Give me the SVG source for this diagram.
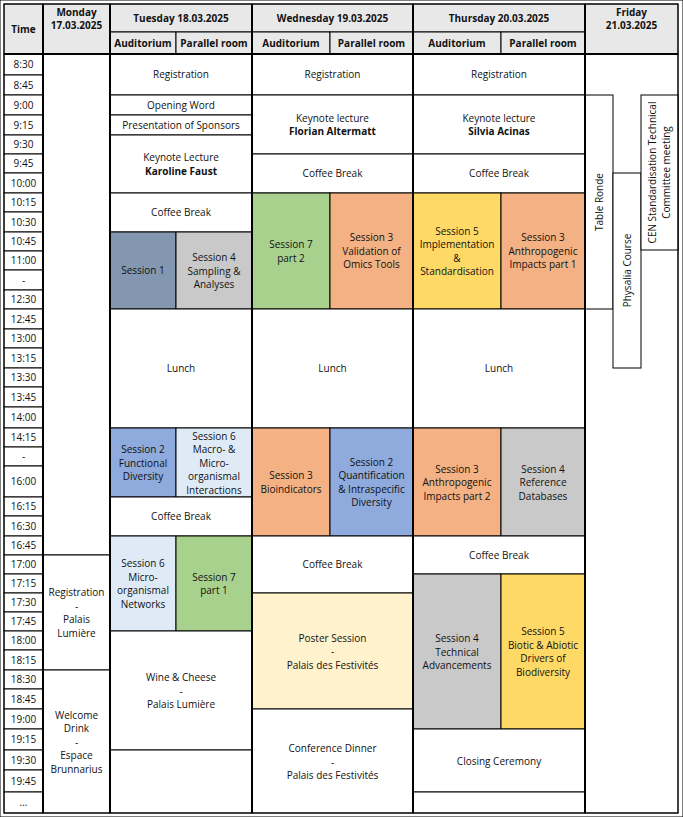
<svg xmlns="http://www.w3.org/2000/svg" width="683" height="817" viewBox="0 0 683 817">
<style>
rect{stroke:#000;stroke-width:1}
.w{fill:#fff}.h{fill:#e8e8e8}.s1{fill:#8497b0}.g{fill:#c9c9c9}.gr{fill:#a9d18e}.o{fill:#f4b183}.y{fill:#ffd966}.lb{fill:#deebf7}.b{fill:#8faadc}.c{fill:#fff2cc}
text{font-family:"Open Sans","Liberation Sans",sans-serif;font-size:10px;fill:#111;text-anchor:middle}
.bd{font-weight:bold}
.thick{stroke:#000;stroke-width:2;fill:none}
</style>
<rect x="0" y="0" width="683" height="817" fill="#fff" stroke="none"/>
<g id="header">
<rect class="h" x="4" y="4" width="39" height="50"/><text class="bd" x="23.5" y="33">Time</text>
<rect class="h" x="43" y="4" width="67" height="50"/><text class="bd" x="76.5" y="16">Monday</text><text class="bd" x="76.5" y="29">17.03.2025</text>
<rect class="h" x="110" y="4" width="142" height="28"/><text class="bd" x="181" y="22">Tuesday 18.03.2025</text>
<rect class="h" x="110" y="32" width="66" height="22"/><text class="bd" x="143" y="47">Auditorium</text>
<rect class="h" x="176" y="32" width="76" height="22"/><text class="bd" x="214" y="47">Parallel room</text>
<rect class="h" x="252" y="4" width="161" height="28"/><text class="bd" x="332.5" y="22">Wednesday 19.03.2025</text>
<rect class="h" x="252" y="32" width="78" height="22"/><text class="bd" x="291" y="47">Auditorium</text>
<rect class="h" x="330" y="32" width="83" height="22"/><text class="bd" x="371.5" y="47">Parallel room</text>
<rect class="h" x="413" y="4" width="172" height="28"/><text class="bd" x="499" y="22">Thursday 20.03.2025</text>
<rect class="h" x="413" y="32" width="88" height="22"/><text class="bd" x="457" y="47">Auditorium</text>
<rect class="h" x="501" y="32" width="84" height="22"/><text class="bd" x="543" y="47">Parallel room</text>
<rect class="h" x="585" y="4" width="93" height="50"/><text class="bd" x="631.5" y="16">Friday</text><text class="bd" x="631.5" y="29">21.03.2025</text>
</g>
<g id="time">
<rect class="w" x="4" y="54" width="39" height="21"/><text x="23.5" y="68">8:30</text>
<rect class="w" x="4" y="75" width="39" height="20"/><text x="23.5" y="89">8:45</text>
<rect class="w" x="4" y="95" width="39" height="20"/><text x="23.5" y="109">9:00</text>
<rect class="w" x="4" y="115" width="39" height="20"/><text x="23.5" y="129">9:15</text>
<rect class="w" x="4" y="135" width="39" height="19"/><text x="23.5" y="148">9:30</text>
<rect class="w" x="4" y="154" width="39" height="19"/><text x="23.5" y="167">9:45</text>
<rect class="w" x="4" y="173" width="39" height="20"/><text x="23.5" y="187">10:00</text>
<rect class="w" x="4" y="193" width="39" height="19"/><text x="23.5" y="206">10:15</text>
<rect class="w" x="4" y="212" width="39" height="20"/><text x="23.5" y="226">10:30</text>
<rect class="w" x="4" y="232" width="39" height="19"/><text x="23.5" y="245">10:45</text>
<rect class="w" x="4" y="251" width="39" height="19"/><text x="23.5" y="264">11:00</text>
<rect class="w" x="4" y="270" width="39" height="20"/><text x="23.5" y="284">-</text>
<rect class="w" x="4" y="290" width="39" height="19"/><text x="23.5" y="303">12:30</text>
<rect class="w" x="4" y="309" width="39" height="20"/><text x="23.5" y="323">12:45</text>
<rect class="w" x="4" y="329" width="39" height="19"/><text x="23.5" y="342">13:00</text>
<rect class="w" x="4" y="348" width="39" height="20"/><text x="23.5" y="362">13:15</text>
<rect class="w" x="4" y="368" width="39" height="19"/><text x="23.5" y="381">13:30</text>
<rect class="w" x="4" y="387" width="39" height="20"/><text x="23.5" y="401">13:45</text>
<rect class="w" x="4" y="407" width="39" height="21"/><text x="23.5" y="421">14:00</text>
<rect class="w" x="4" y="428" width="39" height="19"/><text x="23.5" y="441">14:15</text>
<rect class="w" x="4" y="447" width="39" height="19"/><text x="23.5" y="460">-</text>
<rect class="w" x="4" y="466" width="39" height="31"/><text x="23.5" y="485">16:00</text>
<rect class="w" x="4" y="497" width="39" height="19"/><text x="23.5" y="510">16:15</text>
<rect class="w" x="4" y="516" width="39" height="20"/><text x="23.5" y="530">16:30</text>
<rect class="w" x="4" y="536" width="39" height="19"/><text x="23.5" y="549">16:45</text>
<rect class="w" x="4" y="555" width="39" height="19"/><text x="23.5" y="568">17:00</text>
<rect class="w" x="4" y="574" width="39" height="19"/><text x="23.5" y="587">17:15</text>
<rect class="w" x="4" y="593" width="39" height="19"/><text x="23.5" y="606">17:30</text>
<rect class="w" x="4" y="612" width="39" height="19"/><text x="23.5" y="625">17:45</text>
<rect class="w" x="4" y="631" width="39" height="19"/><text x="23.5" y="644">18:00</text>
<rect class="w" x="4" y="650" width="39" height="20"/><text x="23.5" y="664">18:15</text>
<rect class="w" x="4" y="670" width="39" height="19"/><text x="23.5" y="683">18:30</text>
<rect class="w" x="4" y="689" width="39" height="20"/><text x="23.5" y="703">18:45</text>
<rect class="w" x="4" y="709" width="39" height="20"/><text x="23.5" y="723">19:00</text>
<rect class="w" x="4" y="729" width="39" height="21"/><text x="23.5" y="743">19:15</text>
<rect class="w" x="4" y="750" width="39" height="20"/><text x="23.5" y="764">19:30</text>
<rect class="w" x="4" y="770" width="39" height="22"/><text x="23.5" y="785">19:45</text>
<rect class="w" x="4" y="792" width="39" height="21"/><text x="23.5" y="806">...</text>
</g>
<g id="monday">
<rect class="w" x="43" y="54" width="67" height="501"/>
<rect class="w" x="43" y="555" width="67" height="115"/><text x="76.5" y="596">Registration</text><text x="76.5" y="609.5">-</text><text x="76.5" y="623">Palais</text><text x="76.5" y="636.5">Lumière</text>
<rect class="w" x="43" y="670" width="67" height="143"/><text x="76.5" y="718.5">Welcome</text><text x="76.5" y="732">Drink</text><text x="76.5" y="745.5">-</text><text x="76.5" y="759">Espace</text><text x="76.5" y="772.5">Brunnarius</text>
</g>
<g id="tuesday">
<rect class="w" x="110" y="54" width="142" height="41"/><text x="181" y="78">Registration</text>
<rect class="w" x="110" y="95" width="142" height="20"/><text x="181" y="109">Opening Word</text>
<rect class="w" x="110" y="115" width="142" height="20"/><text x="181" y="129">Presentation of Sponsors</text>
<rect class="w" x="110" y="135" width="142" height="58"/><text x="181" y="161">Keynote Lecture</text><text class="bd" x="181" y="174.5">Karoline Faust</text>
<rect class="w" x="110" y="193" width="142" height="39"/><text x="181" y="216">Coffee Break</text>
<rect class="s1" x="110" y="232" width="66" height="77"/><text x="143" y="274">Session 1</text>
<rect class="g" x="176" y="232" width="76" height="77"/><text x="214" y="261">Session 4</text><text x="214" y="274.5">Sampling &amp;</text><text x="214" y="288">Analyses</text>
<rect class="w" x="110" y="309" width="142" height="119"/><text x="181" y="372">Lunch</text>
<rect class="b" x="110" y="428" width="66" height="69"/><text x="143" y="453">Session 2</text><text x="143" y="466.5">Functional</text><text x="143" y="480">Diversity</text>
<rect class="lb" x="176" y="428" width="76" height="69"/><text x="214" y="439.5">Session 6</text><text x="214" y="453">Macro- &amp;</text><text x="214" y="466.5">Micro-</text><text x="214" y="480">organismal</text><text x="214" y="493.5">Interactions</text>
<rect class="w" x="110" y="497" width="142" height="39"/><text x="181" y="520">Coffee Break</text>
<rect class="lb" x="110" y="536" width="66" height="95"/><text x="143" y="567">Session 6</text><text x="143" y="580.5">Micro-</text><text x="143" y="594">organismal</text><text x="143" y="607.5">Networks</text>
<rect class="gr" x="176" y="536" width="76" height="95"/><text x="214" y="580.5">Session 7</text><text x="214" y="594">part 1</text>
<rect class="w" x="110" y="631" width="142" height="119"/><text x="181" y="681">Wine &amp; Cheese</text><text x="181" y="694.5">-</text><text x="181" y="708">Palais Lumière</text>
<rect class="w" x="110" y="750" width="142" height="63"/>
</g>
<g id="wednesday">
<rect class="w" x="252" y="54" width="161" height="41"/><text x="332.5" y="78">Registration</text>
<rect class="w" x="252" y="95" width="161" height="59"/><text x="332.5" y="121.5">Keynote lecture</text><text class="bd" x="332.5" y="135">Florian Altermatt</text>
<rect class="w" x="252" y="154" width="161" height="39"/><text x="332.5" y="177">Coffee Break</text>
<rect class="gr" x="252" y="193" width="78" height="116"/><text x="291" y="248">Session 7</text><text x="291" y="261.5">part 2</text>
<rect class="o" x="330" y="193" width="83" height="116"/><text x="371.5" y="241">Session 3</text><text x="371.5" y="254.5">Validation of</text><text x="371.5" y="268">Omics Tools</text>
<rect class="w" x="252" y="309" width="161" height="119"/><text x="332.5" y="372">Lunch</text>
<rect class="o" x="252" y="428" width="78" height="108"/><text x="291" y="479">Session 3</text><text x="291" y="492.5">Bioindicators</text>
<rect class="b" x="330" y="428" width="83" height="108"/><text x="371.5" y="465.5">Session 2</text><text x="371.5" y="479">Quantification</text><text x="371.5" y="492.5">&amp; Intraspecific</text><text x="371.5" y="506">Diversity</text>
<rect class="w" x="252" y="536" width="161" height="57"/><text x="332.5" y="568">Coffee Break</text>
<rect class="c" x="252" y="593" width="161" height="116"/><text x="332.5" y="641.5">Poster Session</text><text x="332.5" y="655">-</text><text x="332.5" y="668.5">Palais des Festivités</text>
<rect class="w" x="252" y="709" width="161" height="104"/><text x="332.5" y="752">Conference Dinner</text><text x="332.5" y="765.5">-</text><text x="332.5" y="779">Palais des Festivités</text>
</g>
<g id="thursday">
<rect class="w" x="413" y="54" width="172" height="41"/><text x="499" y="78">Registration</text>
<rect class="w" x="413" y="95" width="172" height="59"/><text x="499" y="121.5">Keynote lecture</text><text class="bd" x="499" y="135">Silvia Acinas</text>
<rect class="w" x="413" y="154" width="172" height="39"/><text x="499" y="177">Coffee Break</text>
<rect class="y" x="413" y="193" width="88" height="116"/><text x="457" y="234.5">Session 5</text><text x="457" y="248">Implementation</text><text x="457" y="261.5">&amp;</text><text x="457" y="275">Standardisation</text>
<rect class="o" x="501" y="193" width="84" height="116"/><text x="543" y="241">Session 3</text><text x="543" y="254.5">Anthropogenic</text><text x="543" y="268">Impacts part 1</text>
<rect class="w" x="413" y="309" width="172" height="119"/><text x="499" y="372">Lunch</text>
<rect class="o" x="413" y="428" width="88" height="108"/><text x="457" y="472.5">Session 3</text><text x="457" y="486">Anthropogenic</text><text x="457" y="499.5">Impacts part 2</text>
<rect class="g" x="501" y="428" width="84" height="108"/><text x="543" y="472.5">Session 4</text><text x="543" y="486">Reference</text><text x="543" y="499.5">Databases</text>
<rect class="w" x="413" y="536" width="172" height="38"/><text x="499" y="559">Coffee Break</text>
<rect class="g" x="413" y="574" width="88" height="155"/><text x="457" y="642">Session 4</text><text x="457" y="655.5">Technical</text><text x="457" y="669">Advancements</text>
<rect class="y" x="501" y="574" width="84" height="155"/><text x="543" y="635">Session 5</text><text x="543" y="648.5">Biotic &amp; Abiotic</text><text x="543" y="662">Drivers of</text><text x="543" y="675.5">Biodiversity</text>
<rect class="w" x="413" y="729" width="172" height="63"/><text x="499" y="765">Closing Ceremony</text>
<rect class="w" x="413" y="792" width="172" height="21"/>
</g>
<g id="friday">
<rect class="w" x="585" y="54" width="93" height="759"/>
<rect class="w" x="585" y="95" width="28" height="214"/><text transform="translate(603,202) rotate(-90)">Table Ronde</text>
<rect class="w" x="613" y="173" width="28" height="195"/><text transform="translate(631,270.5) rotate(-90)">Physalia Course</text>
<rect class="w" x="641" y="95" width="37" height="155"/><text transform="translate(656,172.5) rotate(-90)">CEN Standardisation Technical</text><text transform="translate(669.5,172.5) rotate(-90)">Committee meeting</text>
</g>
<g id="connectors" class="thick">
<rect x="4" y="4" width="674" height="809"/>
<line x1="43" y1="4" x2="43" y2="813"/>
<line x1="110" y1="4" x2="110" y2="813"/>
<line x1="252" y1="4" x2="252" y2="813"/>
<line x1="413" y1="4" x2="413" y2="813"/>
<line x1="585" y1="4" x2="585" y2="813"/>
<line x1="4" y1="54" x2="678" y2="54"/>
</g>
</svg>
